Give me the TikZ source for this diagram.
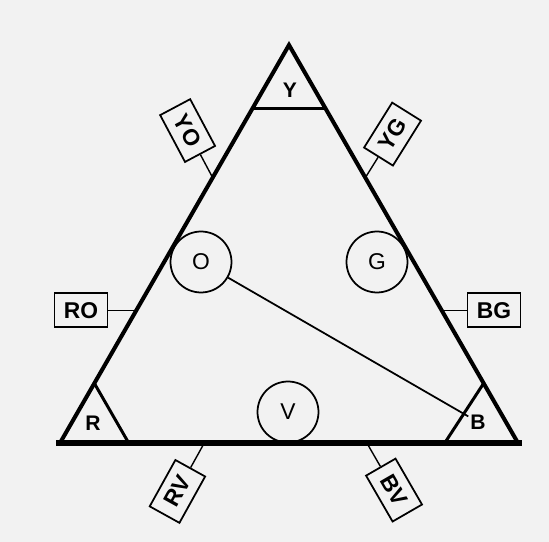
\documentclass[tikz,border=0pt]{standalone}
\usepackage{fontspec}
\setmainfont{Liberation Sans}
\usetikzlibrary{calc,positioning}
\tikzset{
  side/.style={line width=2.3pt,line cap=round},
  basel/.style={line width=3.4pt},
  cutline/.style={line width=1.7pt},
  mixnode/.style={circle,draw,line width=1pt,minimum size=1.22cm,inner sep=0pt,font=\fontsize{13}{15}\selectfont},
  cornernode/.style={inner sep=1pt,font=\fontsize{12}{14}\selectfont\bfseries},
  tagbox/.style={rectangle,draw,line width=1pt,minimum width=1.06cm,minimum height=0.68cm,inner sep=1pt,font=\fontsize{13}{15}\selectfont\bfseries},
  tagline/.style={line width=0.8pt},
  mixline/.style={line width=1pt}
}
\begin{document}
\begin{tikzpicture}[x=0.02cm,y=0.02cm]
  \fill[black!5] (0,0) rectangle (549,542);
  \useasboundingbox (0,0) rectangle (549,542);

  \coordinate (bl) at (60,99);
  \coordinate (br) at (518,99);
  \coordinate (apex) at (289,497);

  % corner cuts
  \coordinate (ytl) at ($(apex)!0.16!(bl)$);
  \coordinate (ytr) at ($(apex)!0.16!(br)$);
  \coordinate (rts) at ($(bl)!0.15!(apex)$);
  \coordinate (rtb) at ($(bl)!0.15!(br)$);
  \coordinate (bts) at ($(br)!0.15!(apex)$);
  \coordinate (btb) at ($(br)!0.16!(bl)$);

  \draw[side] (bl) -- (apex) -- (br);
  \draw[basel] ([xshift=-2pt]bl) -- ([xshift=2pt]br);
  \draw[cutline] (ytl) -- (ytr);
  \draw[cutline] (rts) -- (rtb);
  \draw[cutline] (bts) -- (btb);

  \node[cornernode] (y) at (290,452) {Y};
  \node[cornernode] (r) at (93,119) {R};
  \node[cornernode] (b) at (478,120) {B};

  \node[mixnode] (o) at (201,280) {O};
  \node[mixnode] (g) at (377,280) {G};
  \node[mixnode] (v) at (288,130) {V};

  \draw[mixline] (o) -- (b);

  % tags on the sides
  \coordinate (pyo) at ($(bl)!2/3!(apex)$);
  \coordinate (pyg) at ($(br)!2/3!(apex)$);
  \coordinate (pro) at ($(bl)!1/3!(apex)$);
  \coordinate (pbg) at ($(br)!1/3!(apex)$);
  \coordinate (prv) at ($(bl)!0.315!(br)$);
  \coordinate (pbv) at ($(bl)!0.67!(br)$);

  \node[tagbox,rotate=-62,anchor=east] (yo) at ($(pyo)+(118:26)$) {YO};
  \node[tagbox,rotate=58,anchor=west] (yg) at ($(pyg)+(58:24)$) {YG};
  \node[tagbox,anchor=east] (ro) at ($(pro)+(-28,0)$) {RO};
  \node[tagbox,anchor=west] (bg) at ($(pbg)+(25,0)$) {BG};
  \node[tagbox,rotate=61,anchor=east] (rv) at ($(prv)+(241:28)$) {RV};
  \node[tagbox,rotate=-60,anchor=west] (bv) at ($(pbv)+(300:27)$) {BV};

  \draw[tagline] (yo.east) -- (pyo);
  \draw[tagline] (yg.west) -- (pyg);
  \draw[tagline] (ro.east) -- (pro);
  \draw[tagline] (bg.west) -- (pbg);
  \draw[tagline] (rv.east) -- (prv);
  \draw[tagline] (bv.west) -- (pbv);
\end{tikzpicture}
\end{document}
